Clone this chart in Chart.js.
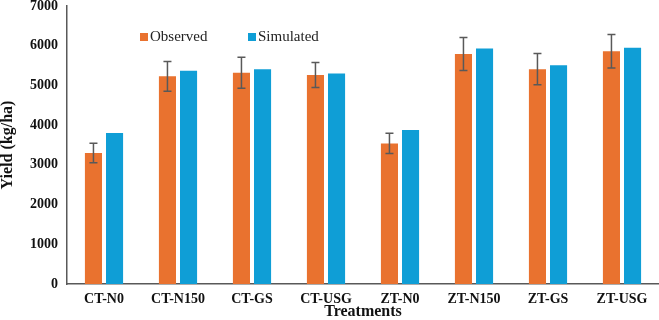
<!DOCTYPE html>
<html>
<head>
<meta charset="utf-8">
<style>
  html, body { margin: 0; padding: 0; background: #fff; }
  #wrap { width: 659px; height: 320px; }
</style>
<script src="https://cdn.jsdelivr.net/npm/chart.js@4"></script>
</head>
<body>
<div id="wrap"><canvas id="yieldChart"></canvas></div>
<script>
const treatments = ['CT-N0', 'CT-N150', 'CT-GS', 'CT-USG', 'ZT-N0', 'ZT-N150', 'ZT-GS', 'ZT-USG'];
const observed = [3300, 5230, 5320, 5260, 3540, 5790, 5410, 5860];
const observedErr = [245, 375, 390, 315, 255, 415, 395, 420];
const simulated = [3800, 5370, 5410, 5300, 3880, 5930, 5510, 5950];
const yTicks = [0, 1000, 2000, 3000, 4000, 5000, 6000, 7000];

const serif = '"Liberation Serif", "Times New Roman", serif';

// whiskers for the observed bars
const errorBars = {
    id: 'errorBars',
    afterDatasetsDraw(chart) {
        const meta = chart.getDatasetMeta(0);
        const y = chart.scales.y;
        const ctx = chart.ctx;
        ctx.save();
        ctx.strokeStyle = '#595959';
        ctx.lineWidth = 1.5;
        meta.data.forEach((bar, i) => {
            const top = y.getPixelForValue(observed[i] + observedErr[i]);
            const bot = y.getPixelForValue(observed[i] - observedErr[i]);
            ctx.beginPath();
            ctx.moveTo(bar.x, top); ctx.lineTo(bar.x, bot);
            ctx.moveTo(bar.x - 4, top); ctx.lineTo(bar.x + 4, top);
            ctx.moveTo(bar.x - 4, bot); ctx.lineTo(bar.x + 4, bot);
            ctx.stroke();
        });
        ctx.restore();
    },
};

// legend sits inside the plot area, left of centre
const innerLegend = {
    id: 'innerLegend',
    afterDraw(chart) {
        const ctx = chart.ctx;
        const spots = [140, 248];
        ctx.save();
        ctx.font = '15px ' + serif;
        ctx.textBaseline = 'middle';
        chart.data.datasets.forEach((ds, i) => {
            ctx.fillStyle = ds.backgroundColor;
            ctx.fillRect(spots[i], 33, 8, 8);
            ctx.fillStyle = '#222';
            ctx.fillText(ds.label, spots[i] + 10, 37);
        });
        ctx.restore();
    },
};

new Chart(document.getElementById('yieldChart'), {
    type: 'bar',
    data: {
        labels: treatments,
        datasets: [
            {
                label: 'Observed',
                data: observed,
                backgroundColor: '#E9722F',
                barPercentage: 0.81,
                categoryPercentage: 0.57,
            },
            {
                label: 'Simulated',
                data: simulated,
                backgroundColor: '#0F9ED6',
                barPercentage: 0.81,
                categoryPercentage: 0.57,
            },
        ],
    },
    options: {
        responsive: true,
        maintainAspectRatio: false,
        animation: false,
        layout: { padding: 0 },
        plugins: {
            legend: { display: false },
            tooltip: { enabled: false },
        },
        scales: {
            x: {
                grid: { display: false, drawTicks: false },
                border: { color: '#595959', width: 1.5 },
                ticks: {
                    color: '#111',
                    padding: 7,
                    font: { family: serif, size: 14, weight: 'bold' },
                },
                title: {
                    display: true,
                    text: 'Treatments',
                    color: '#111',
                    padding: 0,
                    font: { family: serif, size: 16, weight: 'bold', lineHeight: 1 },
                },
                afterFit(scale) { scale.height = 36; },
            },
            y: {
                min: 0,
                max: 7000,
                afterBuildTicks(scale) { scale.ticks = yTicks.map(v => ({ value: v })); },
                grid: { display: false, drawOnChartArea: false, drawTicks: true, tickLength: 4, color: '#595959' },
                border: { color: '#595959', width: 1.5 },
                ticks: {
                    color: '#111',
                    padding: 5,
                    font: { family: serif, size: 14, weight: 'bold' },
                    callback: (v) => String(v),
                },
                title: {
                    display: true,
                    text: 'Yield (kg/ha)',
                    color: '#111',
                    padding: 0,
                    font: { family: serif, size: 16, weight: 'bold', lineHeight: 1 },
                },
                afterFit(scale) {
                    scale.width = 67;
                    scale.paddingTop = 6;
                },
            },
        },
    },
    plugins: [errorBars, innerLegend],
});
</script>
</body>
</html>
